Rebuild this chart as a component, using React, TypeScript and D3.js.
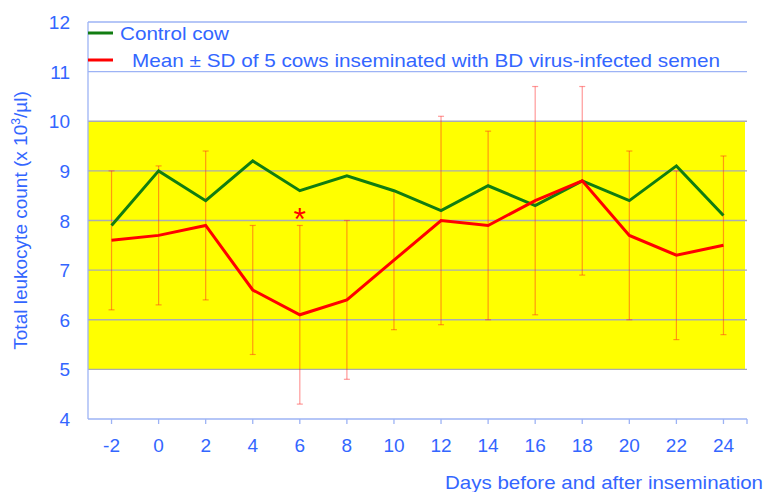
import React from "react";
import * as d3 from "d3";

const days = [-2, 0, 2, 4, 6, 8, 10, 12, 14, 16, 18, 20, 22, 24];
const controlCow = [7.9, 9.0, 8.4, 9.2, 8.6, 8.9, 8.6, 8.2, 8.7, 8.3, 8.8, 8.4, 9.1, 8.1];
const infectedMean = [7.6, 7.7, 7.9, 6.6, 6.1, 6.4, 7.2, 8.0, 7.9, 8.4, 8.8, 7.7, 7.3, 7.5];
const sdUpper = [9.0, 9.1, 9.4, 7.9, 7.9, 8.0, 8.6, 10.1, 9.8, 10.7, 10.7, 9.4, 9.0, 9.3];
const sdLower = [6.2, 6.3, 6.4, 5.3, 4.3, 4.8, 5.8, 5.9, 6.0, 6.1, 6.9, 6.0, 5.6, 5.7];
const yTicks = [4, 5, 6, 7, 8, 9, 10, 11, 12];
const normalRange = [5, 10];
const significantDays = [6];

const W = 767, H = 492;
const left = 88, right = 747, top = 22, bottom = 419;
const blue = "#3366ff";
const font = "'Liberation Sans', Arial, sans-serif";

export default function App() {
  const x = d3.scaleBand<string>()
    .domain(days.map(String))
    .range([left, right]);
  const cx = (d: number) => (x(String(d)) as number) + x.bandwidth() / 2;
  const y = d3.scaleLinear().domain([4, 12]).range([bottom, top]);

  const line = d3.line<[number, number]>()
    .x(d => cx(d[0]))
    .y(d => y(d[1]));

  const greenPath = line(days.map((d, i) => [d, controlCow[i]]));
  const redPath = line(days.map((d, i) => [d, infectedMean[i]]));

  return (
    <svg width={W} height={H} style={{ position: "absolute", left: 0, top: 0 }}>
      <rect x={0} y={0} width={W} height={H} fill="white" />
      {/* normal range band */}
      <rect x={left} y={y(normalRange[1])} width={right - 2 - left}
        height={y(normalRange[0]) - y(normalRange[1])} fill="#ffff00" />
      {/* grid */}
      {yTicks.slice(1).map(t => {
        const inBand = t >= normalRange[0] && t <= normalRange[1];
        return (
          <line key={t} x1={left} x2={right} y1={y(t)} y2={y(t)}
            stroke={inBand ? "#a9acb4" : "#9db3f5"} strokeWidth={1.3} />
        );
      })}
      {/* axes */}
      <line x1={left} x2={left} y1={top} y2={bottom} stroke="#9db3f5" strokeWidth={1.3} />
      <line x1={left} x2={right} y1={bottom} y2={bottom} stroke="#9db3f5" strokeWidth={1.3} />
      {days.map(d => (
        <line key={d} x1={cx(d)} x2={cx(d)} y1={bottom} y2={bottom + 5} stroke="#9db3f5" strokeWidth={1.3} />
      ))}
      <line x1={right} x2={right} y1={bottom} y2={bottom + 5} stroke="#9db3f5" strokeWidth={1.3} />
      {yTicks.map(t => (
        <text key={t} x={70} y={y(t) + 7} textAnchor="end" fontSize={19} fill={blue} fontFamily={font}>{t}</text>
      ))}
      {days.map(d => (
        <text key={d} x={cx(d)} y={bottom + 33} textAnchor="middle" fontSize={19} fill={blue} fontFamily={font}>{d}</text>
      ))}
      <text x={763} y={489} textAnchor="end" fontSize={19} fill={blue} fontFamily={font}
        textLength={318} lengthAdjust="spacingAndGlyphs">Days before and after insemination</text>
      <text transform={`translate(27,${(top + bottom) / 2}) rotate(-90)`} textAnchor="middle"
        fontSize={19} fill={blue} fontFamily={font}>
        Total leukocyte count (x 10<tspan dy={-7} fontSize={12}>3</tspan><tspan dy={7}>/µl)</tspan>
      </text>
      {/* error bars */}
      {days.map((d, i) => (
        <g key={d} stroke="#ff2020" strokeOpacity={0.45} strokeWidth={1.2}>
          <line x1={cx(d)} x2={cx(d)} y1={y(sdUpper[i])} y2={y(sdLower[i])} />
          <line x1={cx(d) - 3} x2={cx(d) + 3} y1={y(sdUpper[i])} y2={y(sdUpper[i])} />
          <line x1={cx(d) - 3} x2={cx(d) + 3} y1={y(sdLower[i])} y2={y(sdLower[i])} />
        </g>
      ))}
      <path d={greenPath ?? ""} fill="none" stroke="#117d11" strokeWidth={3} strokeLinejoin="miter" />
      <path d={redPath ?? ""} fill="none" stroke="#ff0000" strokeWidth={3} strokeLinejoin="miter" />
      {significantDays.map(d => {
        const i = days.indexOf(d);
        return (
          <text key={d} x={cx(d)} y={y(sdUpper[i]) + 5} textAnchor="middle" fontSize={32}
            fill="#ff0000" fontFamily={font}>*</text>
        );
      })}
      {/* legend */}
      <line x1={left} x2={left + 25} y1={33} y2={33} stroke="#117d11" strokeWidth={3} />
      <text x={120} y={40} fontSize={19} fill={blue} fontFamily={font}
        textLength={109} lengthAdjust="spacingAndGlyphs">Control cow</text>
      <line x1={left} x2={left + 25} y1={60} y2={60} stroke="#ff0000" strokeWidth={3} />
      <text x={132} y={67} fontSize={19} fill={blue} fontFamily={font}
        textLength={588} lengthAdjust="spacingAndGlyphs">Mean ± SD of 5 cows inseminated with BD virus-infected semen</text>
    </svg>
  );
}
